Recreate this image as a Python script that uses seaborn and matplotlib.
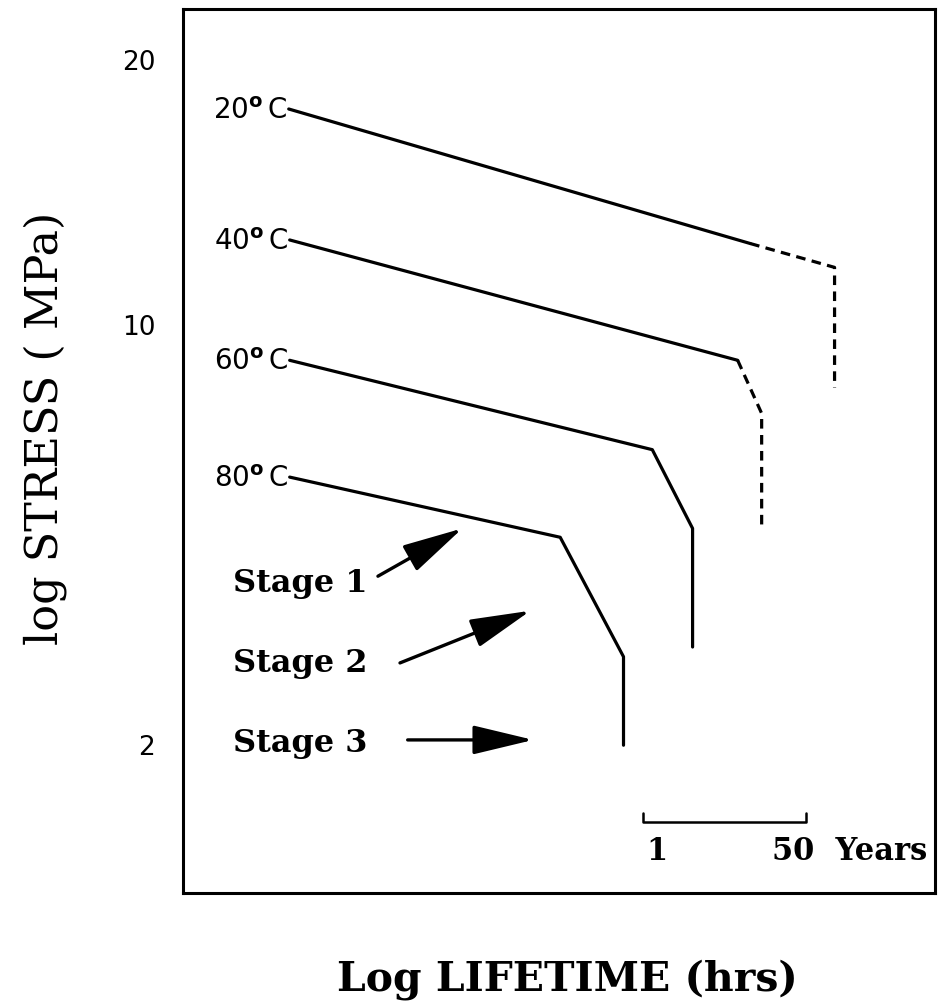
import numpy as np
import pandas as pd
import matplotlib
matplotlib.use("Agg")
import matplotlib.pyplot as plt
import seaborn as sns
from matplotlib.patches import FancyArrowPatch

sns.set_theme(style="white")
plt.rcParams["font.family"] = ["DejaVu Sans"]
plt.rcParams["mathtext.fontset"] = "dejavusans"

# Creep-rupture curves: x = log10 lifetime (hours), y = level on the log-stress axis
temps = ["20", "40", "60", "80"]

x20_solid = [0.25, 5.06]
y20_solid = [8.86, 7.34]
x20_dash = [5.06, 5.94, 5.94]
y20_dash = [7.34, 7.07, 5.71]

x40_solid = [0.26, 4.93]
y40_solid = [7.38, 6.02]
x40_dash = [4.93, 5.18, 5.18]
y40_dash = [6.02, 5.42, 4.16]

x60_solid = [0.26, 4.04, 4.46, 4.46]
y60_solid = [6.02, 5.01, 4.12, 2.78]

x80_solid = [0.26, 3.08, 3.74, 3.74]
y80_solid = [4.70, 4.02, 2.67, 1.67]

# stress axis ticks (MPa)
stress_ticks = [9.41, 6.42, 1.67]
stress_labels = ["20", "10", "2"]

# stage annotations
stage_names = ["Stage 1", "Stage 2", "Stage 3"]
stage_text_x = [-0.33, -0.33, -0.33]
stage_text_y = [3.40, 2.50, 1.59]
stage_tail_x = [1.18, 1.41, 1.49]
stage_tail_y = [3.58, 2.60, 1.73]
stage_tip_x = [2.06, 2.77, 2.80]
stage_tip_y = [4.12, 3.19, 1.73]

# time scale bar, in years
scale_years = [1, 50]
HOURS_PER_YEAR = 8766

segments = [
    ("20s", "solid", x20_solid, y20_solid),
    ("20d", "dashed", x20_dash, y20_dash),
    ("40s", "solid", x40_solid, y40_solid),
    ("40d", "dashed", x40_dash, y40_dash),
    ("60s", "solid", x60_solid, y60_solid),
    ("80s", "solid", x80_solid, y80_solid),
]
rows = []
for name, kind, xs, ys in segments:
    for x, y in zip(xs, ys):
        rows.append({"seg": name, "kind": kind, "x": x, "y": y})
df = pd.DataFrame(rows)

W, H = 940, 1006
fig = plt.figure(figsize=(W / 100, H / 100), dpi=100)
ax = fig.add_axes([183 / W, 1 - 893 / H, (935 - 183) / W, (893 - 9) / H])

sns.lineplot(data=df, x="x", y="y", units="seg", style="kind", estimator=None,
             sort=False, color="black", linewidth=2.3,
             dashes={"solid": "", "dashed": (3, 2)}, legend=False, ax=ax)

ax.set_xlim(-0.852, 6.987)
ax.set_ylim(0, 9.99)

# temperature labels at the start of each curve
starts = [(x20_solid[0], y20_solid[0]), (x40_solid[0], y40_solid[0]),
          (x60_solid[0], y60_solid[0]), (x80_solid[0], y80_solid[0])]
for t, (x0, y0) in zip(temps, starts):
    ax.annotate(f"{t}$^{{\\mathbf{{o}}}}\\,$C", xy=(x0, y0), xytext=(-1, -7),
                textcoords="offset points", ha="right", va="baseline",
                fontsize=20, color="black")

serif_bold = dict(family="DejaVu Serif", fontweight="bold", color="black")

for name, tx, ty, x0, y0, x1, y1 in zip(stage_names, stage_text_x, stage_text_y,
                                        stage_tail_x, stage_tail_y,
                                        stage_tip_x, stage_tip_y):
    ax.text(tx, ty, name, ha="left", va="baseline", fontsize=23, **serif_bold)
    arr = FancyArrowPatch((x0, y0), (x1, y1),
                          arrowstyle="-|>,head_length=2.5,head_width=0.6",
                          mutation_scale=15, color="black", linewidth=2.4,
                          shrinkA=0, shrinkB=0)
    ax.add_patch(arr)

# scale bar
sx = [np.log10(scale_years[0] * HOURS_PER_YEAR), np.log10(scale_years[0] * HOURS_PER_YEAR),
      np.log10(scale_years[1] * HOURS_PER_YEAR), np.log10(scale_years[1] * HOURS_PER_YEAR)]
sy = [0.90, 0.80, 0.80, 0.90]
sns.lineplot(x=sx, y=sy, sort=False, estimator=None, color="black",
             linewidth=1.8, ax=ax)
ax.text(sx[0] + 0.04, 0.37, f"{scale_years[0]}", ha="left", va="baseline",
        fontsize=22, **serif_bold)
ax.text(sx[2] - 0.35, 0.37, f"{scale_years[1]}  Years", ha="left", va="baseline",
        fontsize=22, **serif_bold)

ax.set_xticks([])
ax.set_yticks(stress_ticks)
ax.set_yticklabels(stress_labels, fontsize=19, color="black")
ax.tick_params(axis="y", length=0, pad=20)
ax.set_xlabel("")
ax.set_ylabel("")
for sp in ax.spines.values():
    sp.set_color("black")
    sp.set_linewidth(2.2)
    sp.set_visible(True)

fig.text(567 / W, 1 - 990 / H, "Log LIFETIME (hrs)", ha="center", va="baseline",
         fontsize=29.5, **serif_bold)
fig.text(45 / W, 1 - 428 / H, "log STRESS ( MPa)", ha="center", va="center",
         rotation=90, fontsize=32, family="DejaVu Serif", color="black")

fig.savefig("out.png", dpi=100, facecolor="white")
